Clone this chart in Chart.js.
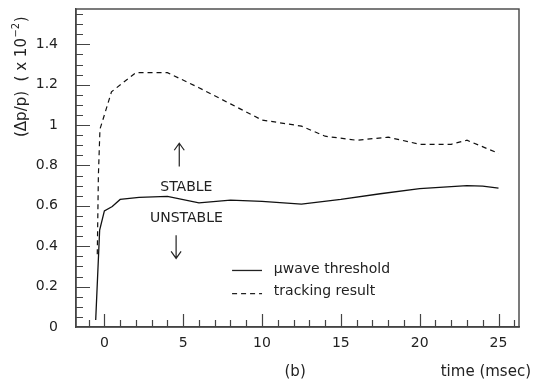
<!DOCTYPE html>
<html>
<head>
<meta charset="utf-8">
<script src="https://cdn.jsdelivr.net/npm/chart.js@4.4.0/dist/chart.umd.min.js"></script>
<style>
html, body { margin: 0; padding: 0; background: #fff; }
</style>
</head>
<body>
<canvas id="chart" width="534" height="381"></canvas>
<script>
// threshold curve (solid)
const thresholdTime  = [-0.55, -0.3, 0.0, 0.5, 1.0, 2.2, 4.0, 6.0, 8.0, 10.0, 12.5, 15.0, 17.5, 20.0, 23.0, 24.0, 25.0];
const thresholdValue = [0.035, 0.48, 0.575, 0.597, 0.632, 0.642, 0.647, 0.615, 0.628, 0.622, 0.609, 0.632, 0.66, 0.685, 0.70, 0.698, 0.688];

// tracking result (dashed)
const trackingTime  = [-0.45, -0.38, -0.28, 0.0, 0.45, 2.0, 4.0, 6.0, 8.0, 10.0, 12.5, 14.0, 16.0, 18.0, 20.0, 22.0, 23.0, 25.0];
const trackingValue = [0.36, 0.75, 0.98, 1.05, 1.165, 1.26, 1.26, 1.185, 1.105, 1.025, 0.995, 0.945, 0.925, 0.94, 0.905, 0.905, 0.925, 0.86];

const xTicks = [0, 5, 10, 15, 20, 25];
const yTicks = [0, 0.2, 0.4, 0.6, 0.8, 1, 1.2, 1.4];
const yTickLabels = ['0', '0.2', '0.4', '0.6', '0.8', '1', '1.2', '1.4'];

const seriesNames = ['\u03bcwave threshold', 'tracking result'];

const FONT = '"DejaVu Sans", sans-serif';
const INK = '#222';
const AXIS = '#444';

function toPoints(xs, ys) {
    return xs.map((x, i) => ({ x: x, y: ys[i] }));
}

const decorations = {
    id: 'decorations',
    afterDraw(chart) {
        const ctx = chart.ctx;
        const xs = chart.scales.x;
        const ys = chart.scales.y;
        const area = chart.chartArea;
        const px = v => xs.getPixelForValue(v);
        const py = v => ys.getPixelForValue(v);

        ctx.save();
        ctx.strokeStyle = AXIS;
        ctx.lineWidth = 1.4;
        ctx.strokeRect(area.left, area.top, area.right - area.left, area.bottom - area.top);

        // inner ticks
        ctx.lineWidth = 1.2;
        ctx.beginPath();
        for (let i = 1; i * 0.05 <= ys.max + 1e-9; i++) {
            const y = Math.round(py(i * 0.05)) + 0.5;
            const len = (i % 4 === 0) ? 14 : 7;
            ctx.moveTo(area.left, y);
            ctx.lineTo(area.left + len, y);
        }
        for (let t = Math.ceil(xs.min); t <= xs.max; t++) {
            const x = Math.round(px(t)) + 0.5;
            const len = (t % 5 === 0) ? 13 : 7;
            ctx.moveTo(x, area.bottom);
            ctx.lineTo(x, area.bottom - len);
        }
        ctx.stroke();

        // arrows
        ctx.strokeStyle = INK;
        ctx.lineWidth = 1.2;
        const arrow = (t, v0, v1) => {
            const x = px(t), y0 = py(v0), y1 = py(v1);
            const dir = y1 < y0 ? 1 : -1;
            ctx.beginPath();
            ctx.moveTo(x, y0);
            ctx.lineTo(x, y1);
            ctx.moveTo(x - 5, y1 + dir * 7);
            ctx.lineTo(x, y1);
            ctx.lineTo(x + 5, y1 + dir * 7);
            ctx.stroke();
        };
        arrow(4.75, 0.795, 0.91);
        arrow(4.55, 0.455, 0.34);

        ctx.fillStyle = INK;
        ctx.font = '14px ' + FONT;
        ctx.textAlign = 'center';
        ctx.textBaseline = 'middle';
        ctx.fillText('STABLE', px(5.2), py(0.693));
        ctx.fillText('UNSTABLE', px(5.2), py(0.54));

        // legend
        ctx.lineWidth = 1.3;
        ctx.beginPath();
        ctx.moveTo(px(8.1), py(0.28));
        ctx.lineTo(px(10.0), py(0.28));
        ctx.stroke();
        ctx.setLineDash([5, 4]);
        ctx.beginPath();
        ctx.moveTo(px(8.1), py(0.165));
        ctx.lineTo(px(10.0), py(0.165));
        ctx.stroke();
        ctx.setLineDash([]);
        ctx.textAlign = 'left';
        ctx.fillText(seriesNames[0], px(10.75), py(0.285));
        ctx.fillText(seriesNames[1], px(10.75), py(0.175));

        // bottom captions
        ctx.font = '15px ' + FONT;
        ctx.textAlign = 'center';
        ctx.fillText('(b)', px(12.1), 372);
        ctx.textAlign = 'right';
        ctx.fillText('time (msec)', 531, 372);

        // y title, rotated
        ctx.translate(22, 137);
        ctx.rotate(-Math.PI / 2);
        ctx.textAlign = 'left';
        ctx.font = '15px ' + FONT;
        let pos = 0;
        const part1 = '(\u0394p/p)  ( x 10';
        ctx.fillText(part1, pos, 0);
        pos += ctx.measureText(part1).width;
        ctx.font = '10px ' + FONT;
        ctx.fillText('\u22122', pos + 0.5, -6);
        pos += ctx.measureText('\u22122').width + 1;
        ctx.font = '15px ' + FONT;
        ctx.fillText(')', pos, 0);
        ctx.restore();
    }
};

new Chart(document.getElementById('chart'), {
    type: 'line',
    data: {
        datasets: [{
            label: seriesNames[0],
            data: toPoints(thresholdTime, thresholdValue),
            borderColor: '#111',
            borderWidth: 1.3,
            pointRadius: 0,
            tension: 0,
            fill: false
        }, {
            label: seriesNames[1],
            data: toPoints(trackingTime, trackingValue),
            borderColor: '#111',
            borderWidth: 1.2,
            borderDash: [5, 4],
            pointRadius: 0,
            tension: 0,
            fill: false
        }]
    },
    options: {
        responsive: false,
        devicePixelRatio: 1,
        animation: false,
        layout: { padding: { top: 9, right: 15, left: 0, bottom: 0 } },
        plugins: {
            legend: { display: false },
            tooltip: { enabled: false }
        },
        scales: {
            x: {
                type: 'linear',
                min: -1.8,
                max: 26.3,
                afterBuildTicks: s => { s.ticks = xTicks.map(v => ({ value: v })); },
                afterFit: s => { s.height = 54; s.paddingLeft = 0; s.paddingRight = 0; },
                ticks: {
                    color: INK,
                    font: { family: FONT, size: 14 },
                    padding: 8,
                    maxRotation: 0,
                    autoSkip: false
                },
                grid: { drawOnChartArea: false, drawTicks: false },
                border: { color: AXIS, width: 1.4 }
            },
            y: {
                type: 'linear',
                min: 0,
                max: 1.575,
                afterBuildTicks: s => { s.ticks = yTicks.map(v => ({ value: v })); },
                afterFit: s => { s.width = 76; s.paddingTop = 0; s.paddingBottom = 0; },
                ticks: {
                    color: INK,
                    font: { family: FONT, size: 14 },
                    padding: 18,
                    autoSkip: false,
                    callback: (v, i) => yTickLabels[i]
                },
                grid: { drawOnChartArea: false, drawTicks: false },
                border: { color: AXIS, width: 1.4 }
            }
        }
    },
    plugins: [decorations]
});
</script>
</body>
</html>
